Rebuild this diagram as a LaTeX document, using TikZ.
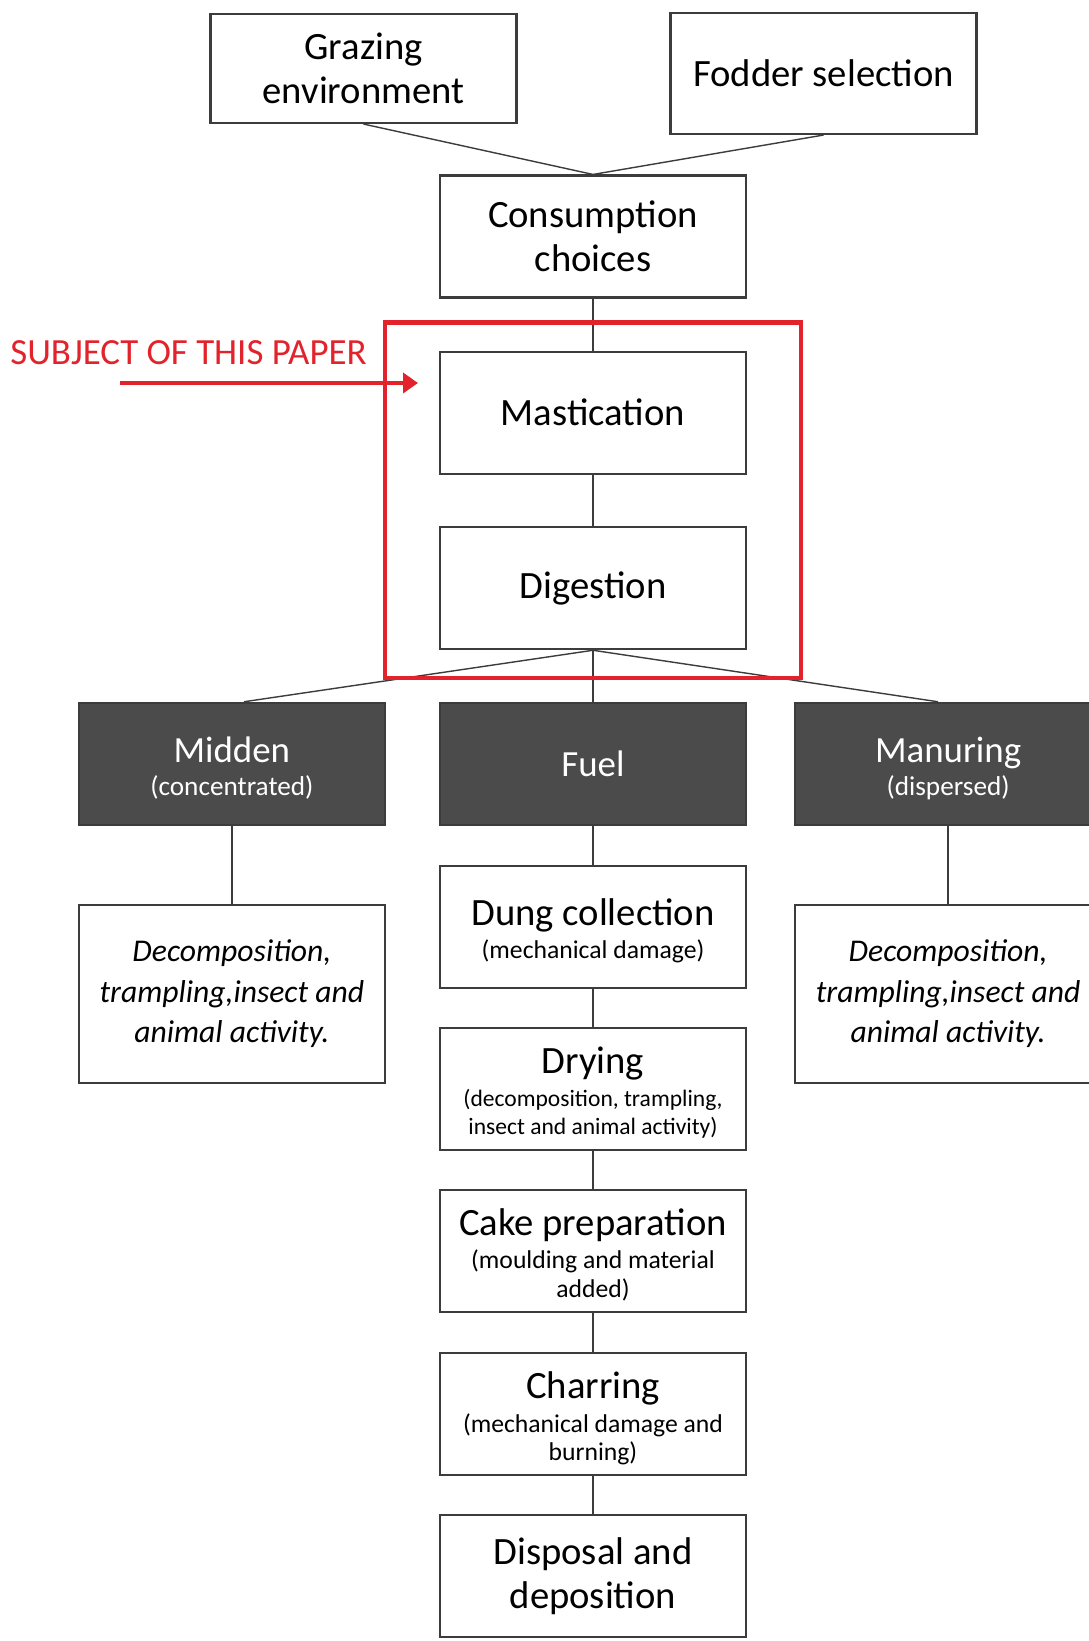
\documentclass[tikz,border=0pt]{standalone}
\usepackage{fontspec}
\setmainfont{Carlito}
\usetikzlibrary{positioning, fit, arrows.meta}
\definecolor{boxline}{HTML}{3C3C3C}
\definecolor{darkfill}{HTML}{4B4B4B}
\definecolor{paperred}{HTML}{E3232B}
\newcommand{\subnote}[2][14.6]{\\[-6pt]{\fontsize{#1}{16}\selectfont\begin{tabular}[t]{@{}c@{}}#2\end{tabular}}}
\tikzset{
	stage/.style={draw=boxline, line width=1.2pt, fill=white,
		minimum width=6.12cm, minimum height=2.44cm, text width=5.8cm,
		align=flush center, font=\fontsize{22}{25}\selectfont},
	noted/.style={text height=22pt},
	outcome/.style={stage, fill=darkfill, text=white, font=\fontsize{21}{25}\selectfont},
	effect/.style={stage, minimum height=3.56cm, font=\fontsize{18}{23}\selectfont\itshape},
	link/.style={draw=boxline, line width=0.8pt},
	focus/.style={draw=paperred, line width=2.4pt}}

\begin{document}
\begin{tikzpicture}
	\useasboundingbox (0,0) rectangle (21.76,-32.82);

	\node[stage, minimum height=2.18cm] (grazing) at (7.27,-1.37) {Grazing\\ environment};
	\node[stage, minimum height=2.42cm] (fodder) at (16.47,-1.47) {Fodder selection};
	\node[stage] (cons) at (11.86,-4.73) {Consumption\\ choices};
	\node[stage, below=1.04cm of cons] (mast) {Mastication};
	\node[stage, below=1.03cm of mast] (dig) {Digestion};
	\node[outcome, below=1.03cm of dig] (fuel) {Fuel};
	\node[outcome, noted, left=1.06cm of fuel] (midden) {Midden\subnote[15.5]{(concentrated)}};
	\node[outcome, noted, right=0.94cm of fuel] (manuring) {Manuring\subnote[15.5]{(dispersed)}};
	\node[effect, below=1.56cm of midden] (middecay) {Decomposition,\\ trampling,insect and\\ animal activity.};
	\node[effect, below=1.56cm of manuring] (mandecay) {Decomposition,\\ trampling,insect and\\ animal activity.};
	\node[stage, noted, below=0.78cm of fuel] (dung) {Dung collection\subnote{(mechanical damage)}};
	\node[stage, noted, below=0.76cm of dung] (drying) {Drying\subnote[13.4]{(decomposition, trampling,\\ insect and animal activity)}};
	\node[stage, noted, below=0.76cm of drying] (cake) {Cake preparation\subnote{(moulding and material\\ added)}};
	\node[stage, noted, below=0.78cm of cake] (charring) {Charring\subnote{(mechanical damage and\\ burning)}};
	\node[stage, below=0.76cm of charring] (disposal) {Disposal and\\ deposition};

	\draw[link] (grazing.south) -- (cons.north);
	\draw[link] (fodder.south) -- (cons.north);
	\draw[link] (cons) -- (mast);
	\draw[link] (mast) -- (dig);
	\draw[link] (dig) -- (fuel);
	\draw[link] (dig.south) -- ([xshift=0.24cm]midden.north);
	\draw[link] (dig.south) -- ([xshift=-0.2cm]manuring.north);
	\draw[link] (midden) -- (middecay);
	\draw[link] (manuring) -- (mandecay);
	\draw[link] (fuel) -- (dung);
	\draw[link] (dung) -- (drying);
	\draw[link] (drying) -- (cake);
	\draw[link] (cake) -- (charring);
	\draw[link] (charring) -- (disposal);

	% the part this paper is about
	\node[focus, fit=(mast)(dig), inner xsep=1.08cm, inner ysep=0.56cm] (subject) {};
	\node[anchor=west, inner sep=0pt, text=paperred, font=\fontsize{21}{24}\selectfont] (subjectlabel) at (0.2,-7.06) {SUBJECT OF THIS PAPER};
	\coordinate (pointerstart) at (2.4,-7.66);
	\coordinate (pointerend) at (8.36,-7.66);
	\draw[focus, line width=2.8pt, -{Triangle[length=0.3cm, width=0.4cm]}] (pointerstart) -- (pointerend);
\end{tikzpicture}
\end{document}
